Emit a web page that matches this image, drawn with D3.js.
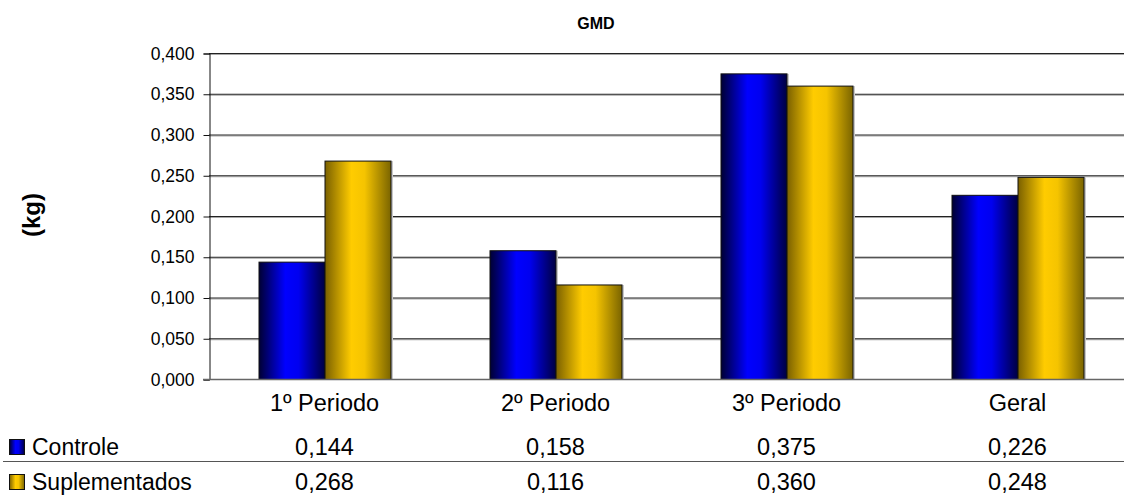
<!DOCTYPE html>
<html>
<head>
<meta charset="utf-8">
<script src="https://cdn.jsdelivr.net/npm/d3@7"></script>
<style>
  body { margin: 0; background: #fff; }
  svg { font-family: "Liberation Sans", Arial, sans-serif; display: block; }
</style>
</head>
<body>
<div id="chart"></div>
<script>
// Chart data
const categories = ["1º Periodo", "2º Periodo", "3º Periodo", "Geral"];
const seriesNames = ["Controle", "Suplementados"];
const controle = [0.144, 0.158, 0.375, 0.226];
const suplementados = [0.268, 0.116, 0.360, 0.248];
const yTicks = [0, 0.05, 0.1, 0.15, 0.2, 0.25, 0.3, 0.35, 0.4];

const W = 1124, H = 496;
const plot = { left: 209, right: 1133, top: 53, bottom: 379 };

const fmt = v => d3.format(".3f")(v).replace(".", ",");

const svg = d3.select("#chart").append("svg")
  .attr("width", W)
  .attr("height", H);

// gradients for the bars
const defs = svg.append("defs");
const grads = [
  { id: "gBlue", stops: [["0%", "#000033"], ["40%", "#0000ff"], ["60%", "#0000f0"], ["100%", "#000040"]] },
  { id: "gGold", stops: [["0%", "#7a6000"], ["40%", "#ffcc00"], ["60%", "#f5c400"], ["100%", "#7a6400"]] }
];
grads.forEach(g => {
  const lg = defs.append("linearGradient").attr("id", g.id)
    .attr("x1", "0%").attr("x2", "100%").attr("y1", "0%").attr("y2", "0%");
  g.stops.forEach(s => lg.append("stop").attr("offset", s[0]).attr("stop-color", s[1]));
});
const fills = ["url(#gBlue)", "url(#gGold)"];

// scales
const x0 = d3.scaleBand().domain(categories).range([plot.left, plot.right]);
const x1 = d3.scaleBand().domain(seriesNames)
  .range([x0.bandwidth() * 0.75 / 3.5, x0.bandwidth() * 2.75 / 3.5]);
const y = d3.scaleLinear().domain([0, 0.4]).range([plot.bottom, plot.top]);

// gridlines with light shadow
const grid = svg.append("g");
yTicks.filter(t => t > 0).forEach(t => {
  grid.append("line")
    .attr("x1", plot.left).attr("x2", W)
    .attr("y1", y(t) + 1.5).attr("y2", y(t) + 1.5)
    .attr("stroke", "#a8a8a8").attr("stroke-width", 1);
  grid.append("line")
    .attr("x1", plot.left).attr("x2", W)
    .attr("y1", y(t) + 0.5).attr("y2", y(t) + 0.5)
    .attr("stroke", "#222").attr("stroke-width", 1);
});

// bars
const rows = [controle, suplementados];
categories.forEach((c, i) => {
  seriesNames.forEach((s, j) => {
    const v = rows[j][i];
    svg.append("rect")
      .attr("x", x0(c) + x1(s) + 1.5)
      .attr("y", y(v) + 0.5)
      .attr("width", x1.bandwidth() + 1)
      .attr("height", plot.bottom - y(v) - 0.5)
      .attr("fill", "#c8c8c8");
    svg.append("rect")
      .attr("x", x0(c) + x1(s) + 0.5)
      .attr("y", y(v) + 0.5)
      .attr("width", x1.bandwidth())
      .attr("height", plot.bottom - y(v))
      .attr("fill", fills[j])
      .attr("stroke", "#111")
      .attr("stroke-width", 1);
  });
});

// y axis
const yAxis = svg.append("g")
  .attr("transform", `translate(${plot.left + 0.5},0.5)`)
  .call(d3.axisLeft(y).tickValues(yTicks).tickFormat(fmt).tickSizeOuter(0).tickSize(6).tickPadding(9));
yAxis.select(".domain").attr("stroke", "#111");
yAxis.selectAll(".tick line").attr("stroke", "#111");
yAxis.selectAll(".tick text")
  .attr("fill", "#000")
  .style("font-size", "17.5px")
  .style("font-family", "Liberation Sans, Arial, sans-serif");

// baseline (category axis)
svg.append("line")
  .attr("x1", plot.left - 6).attr("x2", W)
  .attr("y1", plot.bottom + 0.5).attr("y2", plot.bottom + 0.5)
  .attr("stroke", "#666").attr("stroke-width", 1.5);

// category labels
svg.append("g").selectAll("text")
  .data(categories)
  .join("text")
  .attr("x", d => x0(d) + x0.bandwidth() / 2)
  .attr("y", 411)
  .attr("text-anchor", "middle")
  .style("font-size", "23.5px")
  .text(d => d);

// data table rows
const tableY = [455, 490];
seriesNames.forEach((s, j) => {
  svg.append("rect")
    .attr("x", 9.5).attr("y", tableY[j] - 15.5)
    .attr("width", 15).attr("height", 15)
    .attr("fill", fills[j])
    .attr("stroke", "#111");
  svg.append("text")
    .attr("x", 32).attr("y", tableY[j])
    .style("font-size", "23px")
    .text(s);
  svg.append("g").selectAll("text")
    .data(rows[j])
    .join("text")
    .attr("x", (d, i) => x0(categories[i]) + x0.bandwidth() / 2)
    .attr("y", tableY[j])
    .attr("text-anchor", "middle")
    .style("font-size", "23.5px")
    .text(d => fmt(d));
});

svg.append("line")
  .attr("x1", 3).attr("x2", W)
  .attr("y1", 461.5).attr("y2", 461.5)
  .attr("stroke", "#555").attr("stroke-width", 1);

// title
svg.append("text")
  .attr("x", 596).attr("y", 29)
  .attr("text-anchor", "middle")
  .style("font-size", "16px")
  .style("font-weight", "bold")
  .text("GMD");

// y axis title
svg.append("text")
  .attr("transform", "translate(40,215) rotate(-90)")
  .attr("text-anchor", "middle")
  .style("font-size", "24px")
  .style("font-weight", "bold")
  .text("(kg)");
</script>
</body>
</html>
